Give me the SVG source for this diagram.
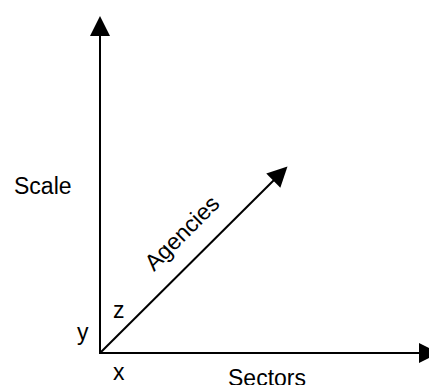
<svg xmlns="http://www.w3.org/2000/svg" width="429" height="385" viewBox="0 0 429 385">
<style>
.ax{stroke:#000;stroke-width:2;fill:none}
.t{font-family:"Liberation Sans",Arial,sans-serif;font-size:23px;fill:#000}
</style>
<defs>
<marker id="ah" markerUnits="userSpaceOnUse" markerWidth="22" markerHeight="22" refX="1" refY="10" orient="auto" overflow="visible">
<path d="M0,0 L20,10 L0,20 z" fill="#000"/>
</marker>
</defs>
<rect width="429" height="385" fill="#fff"/>
<g id="connectors">
<line class="ax" x1="100" y1="354" x2="100" y2="35" marker-end="url(#ah)"/>
<line class="ax" x1="99" y1="353" x2="420" y2="353" marker-end="url(#ah)"/>
<line class="ax" x1="100" y1="353" x2="274" y2="180" marker-end="url(#ah)"/>
</g>
<g id="labels">
<text class="t" x="14" y="194">Scale</text>
<text class="t" transform="translate(154,272) rotate(-45)">Agencies</text>
<text class="t" x="113" y="318">z</text>
<text class="t" x="77" y="340">y</text>
<text class="t" x="113" y="380">x</text>
<text class="t" x="228" y="386">Sectors</text>
</g>
</svg>
